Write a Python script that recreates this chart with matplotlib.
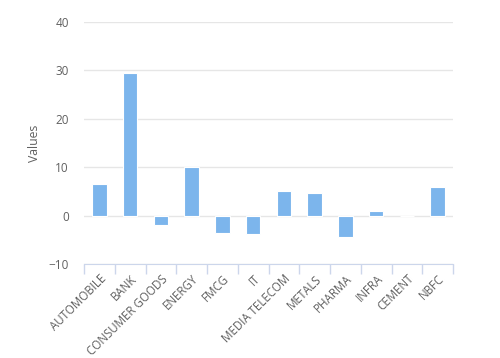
import numpy as np
import matplotlib.pyplot as plt

sectors = ["AUTOMOBILE", "BANK", "CONSUMER GOODS", "ENERGY", "FMCG", "IT",
           "MEDIA TELECOM", "METALS", "PHARMA", "INFRA", "CEMENT", "NBFC"]
values = [6.5, 29.4, -2.0, 10.0, -3.5, -3.9, 5.0, 4.6, -4.4, 0.85, 0.0, 6.0]
yticks = [-10, 0, 10, 20, 30, 40]

plt.rcParams["font.family"] = ["Open Sans", "DejaVu Sans"]
text_color = "#606060"

fig = plt.figure(figsize=(5, 3.58), dpi=100)
ax = fig.add_axes([0.168, 0.2626, 0.738, 0.676])

x = np.arange(len(sectors))
ax.bar(x, values, width=0.47, color="#7cb5ec", edgecolor="white",
       linewidth=0.8, zorder=3)

ax.set_xlim(-0.5, len(sectors) - 0.5)
ax.set_ylim(-10, 40)

ax.set_yticks(yticks)
ax.yaxis.grid(True, color="#e6e6e6", linewidth=1, zorder=0)
ax.tick_params(axis="y", length=0, pad=11, labelsize=8.5, labelcolor=text_color)

ax.set_xticks(x)
ax.set_xticklabels(sectors, rotation=45, ha="right", rotation_mode="anchor",
                   fontsize=8.3, color=text_color)
ax.tick_params(axis="x", which="major", length=0, pad=6)
ax.set_xticks(np.arange(len(sectors) + 1) - 0.5, minor=True)
ax.tick_params(axis="x", which="minor", length=7, color="#ccd6eb", width=1)

for side in ["top", "right", "left"]:
    ax.spines[side].set_visible(False)
ax.spines["bottom"].set_color("#ccd6eb")

ax.set_ylabel("Values", fontsize=8.8, color=text_color, labelpad=5)

fig.savefig("out.png", dpi=100)
